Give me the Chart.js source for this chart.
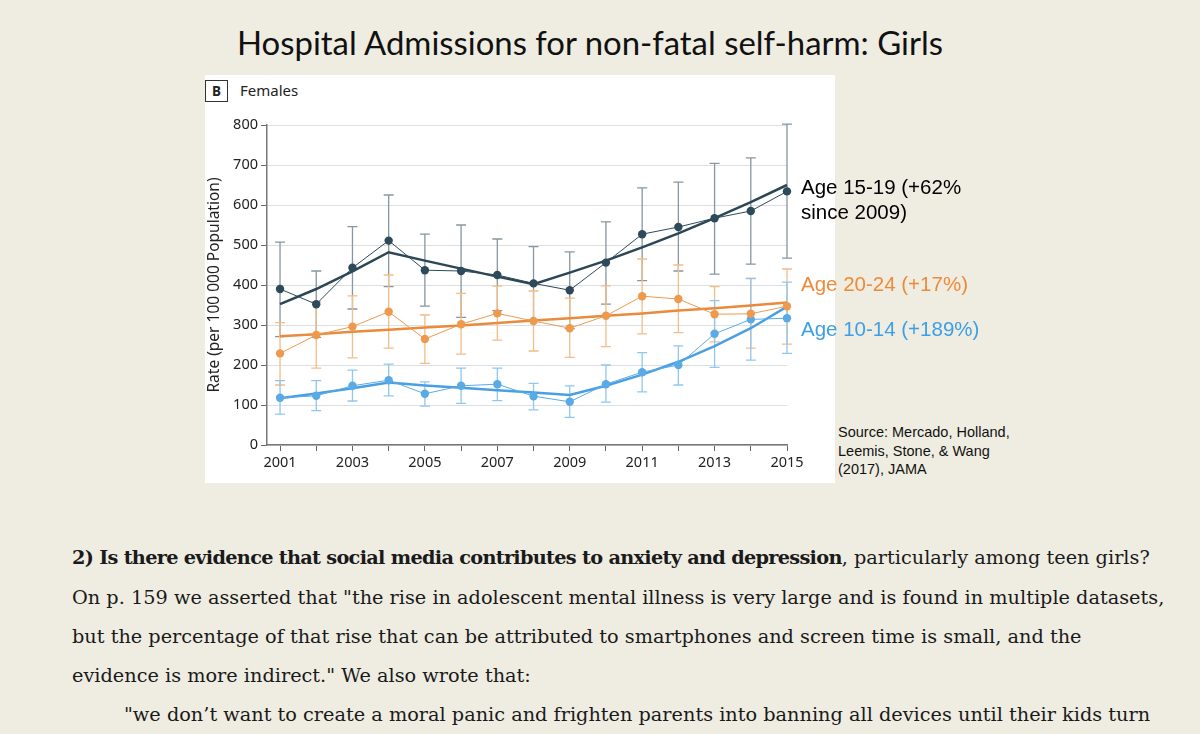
<!DOCTYPE html>
<html lang="en">
<head>
<meta charset="UTF-8">
<title>Hospital Admissions for non-fatal self-harm: Girls</title>
<script src="https://cdn.jsdelivr.net/npm/chart.js@4.4.1/dist/chart.umd.min.js"></script>
<style>
  html, body { margin: 0; padding: 0; }
  body { width: 1200px; height: 734px; background: #efede2; position: relative; overflow: hidden; }
  .abs { position: absolute; white-space: nowrap; }
  #title { left: 237px; top: 23px; font: 32.9px Lato, sans-serif; color: #111; }
  #panel { left: 205px; top: 75px; width: 630px; height: 408px; background: #fff; }
  #bbox { left: 205px; top: 80px; width: 21px; height: 20px; border: 1px solid #333; font: bold 13.5px "Noto Sans", sans-serif; text-align: center; line-height: 20px; color: #222; }
  #fem { left: 240px; top: 80px; font: 15px "Noto Sans", sans-serif; color: #222; }
  canvas { position: absolute; left: 205px; top: 100px; }
  .lab { font: 20.5px "Liberation Sans", Arial, sans-serif; line-height: 25px; }
  .src { left: 838px; top: 423px; font: 14.5px "Liberation Sans", Arial, sans-serif; line-height: 18.5px; color: #111; }
  .body { left: 72px; font: 19.3px "DejaVu Serif", serif; line-height: 24px; color: #1a1a1a; }
  .body b { letter-spacing: -0.7px; }
</style>
</head>
<body>
<div id="title" class="abs">Hospital Admissions for non-fatal self-harm: Girls</div>
<div id="panel" class="abs"></div>
<div id="bbox" class="abs">B</div>
<div id="fem" class="abs">Females</div>
<canvas id="chart" width="630" height="383"></canvas>

<div class="abs lab" style="left:801px; top:174px; color:#000;">Age 15-19 (+62%<br>since 2009)</div>
<div class="abs lab" style="left:801px; top:271px; color:#ee8b3a;">Age 20-24 (+17%)</div>
<div class="abs lab" style="left:801px; top:316px; color:#3d9fe6;">Age 10-14 (+189%)</div>
<div class="abs src">Source: Mercado, Holland,<br>Leemis, Stone, &amp; Wang<br>(2017), JAMA</div>

<div class="abs body" style="top:546px;"><b>2) Is there evidence that social media contributes to anxiety and depression</b>, particularly among teen girls?</div>
<div class="abs body" style="top:586px;">On p. 159 we asserted that "the rise in adolescent mental illness is very large and is found in multiple datasets,</div>
<div class="abs body" style="top:625px;">but the percentage of that rise that can be attributed to smartphones and screen time is small, and the</div>
<div class="abs body" style="top:664px;">evidence is more indirect." We also wrote that:</div>
<div class="abs body" style="top:703px; left:124px;">"we don’t want to create a moral panic and frighten parents into banning all devices until their kids turn</div>

<script>
const years = [2001, 2002, 2003, 2004, 2005, 2006, 2007, 2008, 2009, 2010, 2011, 2012, 2013, 2014, 2015];

// Age 15-19
const age1519   = [390, 352, 443, 511, 437, 435, 425, 404, 387, 456, 527, 545, 567, 585, 634];
const age1519Lo = [271, 269, 340, 396, 347, 319, 336, 312, 291, 352, 411, 435, 427, 452, 467];
const age1519Hi = [507, 435, 546, 625, 527, 550, 515, 496, 483, 558, 643, 657, 704, 718, 802];
const trend1519 = [352, 390, 434, 482, 461, 441, 421, 402, 431, 461, 494, 529, 567, 607, 650];

// Age 20-24
const age2024   = [229, 275, 296, 333, 265, 302, 329, 310, 292, 323, 372, 365, 327, 328, 347];
const age2024Lo = [150, 192, 218, 242, 204, 227, 262, 235, 219, 246, 278, 281, 258, 242, 252];
const age2024Hi = [306, 358, 373, 425, 325, 379, 397, 385, 367, 398, 465, 450, 396, 417, 440];
const trend2024 = [272, 277, 283, 288, 294, 299, 305, 311, 317, 323, 329, 336, 342, 349, 356];

// Age 10-14
const age1014   = [118, 123, 148, 162, 128, 148, 152, 122, 108, 152, 182, 200, 278, 314, 317];
const age1014Lo = [77, 86, 110, 123, 97, 104, 111, 88, 69, 107, 133, 150, 194, 212, 229];
const age1014Hi = [161, 161, 187, 202, 158, 192, 192, 154, 148, 200, 231, 248, 361, 416, 407];
const trend1014 = [117, 129, 142, 156, 149, 143, 137, 131, 125, 148, 176, 208, 247, 292, 346];

const yTicks = [0, 100, 200, 300, 400, 500, 600, 700, 800];

const pts = arr => arr.map((v, i) => ({ x: years[i], y: v }));

const bands = [
    { lo: age1519Lo, hi: age1519Hi, color: '#8796a0' },
    { lo: age2024Lo, hi: age2024Hi, color: '#f2bd87' },
    { lo: age1014Lo, hi: age1014Hi, color: '#8fc7ef' }
];

// error bars, drawn through the chart's scales
const errorBars = {
    id: 'errorBars',
    beforeDatasetsDraw(chart) {
        const { ctx, scales: { x, y } } = chart;
        ctx.save();
        ctx.lineWidth = 1.3;
        bands.forEach(b => {
            ctx.strokeStyle = b.color;
            years.forEach((yr, i) => {
                const px = x.getPixelForValue(yr);
                const top = y.getPixelForValue(b.hi[i]);
                const bot = y.getPixelForValue(b.lo[i]);
                ctx.beginPath();
                ctx.moveTo(px, top); ctx.lineTo(px, bot);
                ctx.moveTo(px - 5, top); ctx.lineTo(px + 5, top);
                ctx.moveTo(px - 5, bot); ctx.lineTo(px + 5, bot);
                ctx.stroke();
            });
        });
        ctx.restore();
    }
};

function series(data, color, width, radius) {
    return {
        data: pts(data),
        borderColor: color,
        backgroundColor: color,
        borderWidth: width,
        pointRadius: radius,
        pointBorderWidth: 0,
        tension: 0,
        fill: false
    };
}

const ctx = document.getElementById('chart').getContext('2d');
new Chart(ctx, {
    type: 'line',
    data: {
        datasets: [
            series(age1519, '#2d4a5a', 1, 4.2),
            series(age2024, '#ee9a4e', 1, 4.2),
            series(age1014, '#5aaae6', 1, 4.2),
            series(trend1519, '#2b4654', 2.5, 0),
            series(trend2024, '#e98a3c', 2.5, 0),
            series(trend1014, '#4a9fe2', 2.5, 0)
        ]
    },
    options: {
        responsive: false,
        animation: false,
        clip: false,
        layout: { padding: { left: 0, right: 48, top: 25, bottom: 0 } },
        plugins: { legend: { display: false }, tooltip: { enabled: false } },
        scales: {
            x: {
                type: 'linear',
                min: 2000.64,
                max: 2015,
                afterBuildTicks: s => { s.ticks = years.map(v => ({ value: v })); },
                afterFit: s => { s.height = 38; },
                grid: { drawOnChartArea: false, tickLength: 6, tickColor: '#666' },
                border: { color: '#777', width: 1.5 },
                ticks: {
                    autoSkip: false, maxRotation: 0, padding: 3,
                    color: '#222', font: { family: 'Noto Sans', size: 14.5 },
                    callback: v => (v % 2 === 1 ? String(v) : '')
                }
            },
            y: {
                min: 0,
                max: 800,
                afterBuildTicks: s => { s.ticks = yTicks.map(v => ({ value: v })); },
                afterFit: s => { s.width = 62; },
                grid: { color: '#dcdfe2', lineWidth: 1, tickLength: 6, tickColor: '#666' },
                border: { color: '#777', width: 1.5 },
                ticks: { padding: 3, color: '#222', font: { family: 'Noto Sans', size: 14.5 } },
                title: {
                    display: true,
                    text: 'Rate (per 100 000 Population)',
                    color: '#222',
                    font: { family: 'Noto Sans', size: 15.5 },
                    padding: { top: 0, bottom: 0 }
                }
            }
        }
    },
    plugins: [errorBars]
});
</script>
</body>
</html>
